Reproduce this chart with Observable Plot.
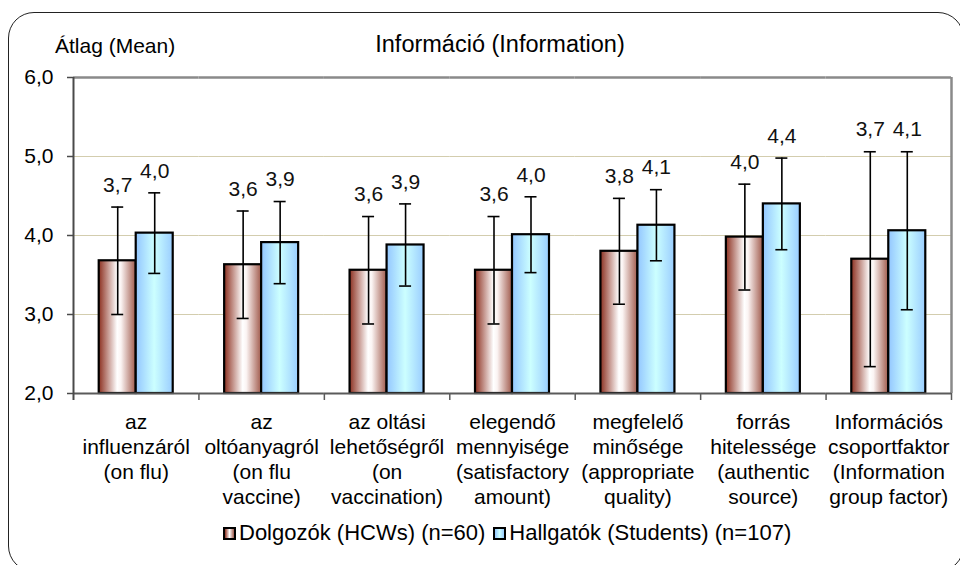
<!DOCTYPE html>
<html><head><meta charset="utf-8">
<script src="https://cdn.jsdelivr.net/npm/d3@7"></script>
<script src="https://cdn.jsdelivr.net/npm/@observablehq/plot@0.6"></script>
<style>
html,body{margin:0;padding:0;background:#fff;overflow:hidden;}
#wrap{position:relative;width:960px;height:565px;overflow:hidden;font-family:"Liberation Sans",Arial,sans-serif;color:#000;}
#frame{position:absolute;left:8px;top:12px;width:956px;height:560px;border:1.5px solid #222;border-radius:26px;box-sizing:border-box;pointer-events:none;}
#chart{position:absolute;left:0;top:0;}
#title{position:absolute;left:500px;top:33px;transform:translateX(-50%);font-size:23.5px;line-height:1;white-space:nowrap;}
#ylab{position:absolute;left:55px;top:35px;font-size:21px;line-height:1;white-space:nowrap;}
#legend{position:absolute;left:223px;top:522px;font-size:22px;line-height:1;display:flex;align-items:center;white-space:nowrap;}
#legend .sw{display:inline-block;width:9px;height:9px;border:2px solid #000;margin-right:3px;}
#legend .item{display:flex;align-items:center;margin-right:8px;}
</style>
</head><body>
<div id="wrap">
  <div id="chart"></div>
  <div id="title"></div>
  <div id="ylab"></div>
  <div id="legend"></div>
  <div id="frame"></div>
</div>
<script>
const chartTitle = "Információ (Information)";
const yTitle = "Átlag (Mean)";
const categories = [
  "az\ninfluenzáról\n(on flu)",
  "az\noltóanyagról\n(on flu\nvaccine)",
  "az oltási\nlehetőségről\n(on\nvaccination)",
  "elegendő\nmennyisége\n(satisfactory\namount)",
  "megfelelő\nminősége\n(appropriate\nquality)",
  "forrás\nhitelessége\n(authentic\nsource)",
  "Információs\ncsoportfaktor\n(Information\ngroup factor)"
];
const series = ["Dolgozók (HCWs) (n=60)", "Hallgatók (Students) (n=107)"];
const hcwMean = [3.68, 3.63, 3.56, 3.56, 3.80, 3.98, 3.70];
const hcwSd = [0.68, 0.68, 0.68, 0.68, 0.67, 0.67, 1.36];
const studentMean = [4.03, 3.91, 3.88, 4.01, 4.13, 4.40, 4.06];
const studentSd = [0.51, 0.52, 0.52, 0.48, 0.45, 0.58, 1.00];
const yTicks = [2, 3, 4, 5, 6];

const rows = [];
categories.forEach((c, i) => {
  rows.push({cat: c, series: series[0], mean: hcwMean[i], sd: hcwSd[i]});
  rows.push({cat: c, series: series[1], mean: studentMean[i], sd: studentSd[i]});
});
const hcwRows = rows.filter(d => d.series === series[0]);
const stuRows = rows.filter(d => d.series === series[1]);
const fmt = v => v.toFixed(1).replace(".", ",");

const W = 960, H = 565, mL = 73, mR = 9, mT = 77, mB = 172;
const bw = (W - mL - mR) / categories.length;

const chart = Plot.plot({
  width: W, height: H,
  marginTop: mT, marginBottom: mB, marginLeft: mL, marginRight: mR,
  style: {fontFamily: "'Liberation Sans', Arial, sans-serif", fontSize: "21px", color: "#000", background: "transparent", overflow: "visible"},
  fx: {domain: categories, padding: 0, round: false, label: null},
  x: {domain: series, paddingInner: 0, paddingOuter: 0.695, round: false, axis: null},
  y: {domain: [2, 6], label: null},
  marks: [
    Plot.ruleY([3, 4, 5], {stroke: "#d3cdae", strokeWidth: 1.2}),
    Plot.ruleY([6], {stroke: "#8a8a8a", strokeWidth: 2.5}),
    Plot.ruleX([categories[categories.length - 1]], {fx: d => d, x: null, dx: bw / 2, y1: 6, y2: 2, stroke: "#8a8a8a", strokeWidth: 2.5}),
    Plot.barY(hcwRows, {fx: "cat", x: "series", y1: 2, y2: "mean", fill: "url(#gBrown)", stroke: "#000", strokeWidth: 2.2, inset: 0}),
    Plot.barY(stuRows, {fx: "cat", x: "series", y1: 2, y2: "mean", fill: "url(#gBlue)", stroke: "#000", strokeWidth: 2.2, inset: 0}),
    Plot.ruleX(rows, {fx: "cat", x: "series", y1: d => d.mean - d.sd, y2: d => d.mean + d.sd, stroke: "#000", strokeWidth: 1.6}),
    Plot.tickY(rows, {fx: "cat", x: "series", y: d => d.mean + d.sd, insetLeft: 12.5, insetRight: 12.5, stroke: "#000", strokeWidth: 1.6}),
    Plot.tickY(rows, {fx: "cat", x: "series", y: d => d.mean - d.sd, insetLeft: 12.5, insetRight: 12.5, stroke: "#000", strokeWidth: 1.6}),
    Plot.text(rows, {fx: "cat", x: "series", y: d => d.mean + d.sd, text: d => fmt(d.mean), dy: -22, fontSize: 21, fill: "#111"}),
    Plot.ruleY([2], {stroke: "#5a5a5a", strokeWidth: 2}),
    Plot.ruleX([0], {x: null, dx: bw / 2, y1: 2, y2: 2, insetBottom: -7, stroke: "#5a5a5a", strokeWidth: 1.5}),
    Plot.ruleX([categories[0]], {fx: d => d, x: null, dx: -bw / 2, y1: 6, y2: 2, insetBottom: -7, stroke: "#4a4a4a", strokeWidth: 2}),
    Plot.axisY({ticks: yTicks, tickFormat: fmt, tickSize: 6, tickPadding: 14, fontSize: 21, label: null, stroke: "#4a4a4a", strokeWidth: 1.5}),
    Plot.axisFx({anchor: "bottom", tickSize: 0, tickPadding: 18, fontSize: 21, lineHeight: 1.19, label: null})
  ]
});

const svg = d3.select(chart);
const defs = svg.insert("defs", ":first-child");
const g1 = defs.append("linearGradient").attr("id", "gBrown").attr("x1", 0).attr("x2", 1).attr("y1", 0).attr("y2", 0);
[[0, "#8c3020"], [0.5, "#ffffff"], [0.6, "#fbf4f3"], [1, "#a05a4c"]].forEach(([o, c]) => g1.append("stop").attr("offset", o).attr("stop-color", c));
const g2 = defs.append("linearGradient").attr("id", "gBlue").attr("x1", 0).attr("x2", 1).attr("y1", 0).attr("y2", 0);
[[0, "#93c6ff"], [0.5, "#ccffff"], [1, "#9acdff"]].forEach(([o, c]) => g2.append("stop").attr("offset", o).attr("stop-color", c));

document.getElementById("chart").appendChild(chart);
document.getElementById("title").textContent = chartTitle;
document.getElementById("ylab").textContent = yTitle;

const legend = document.getElementById("legend");
const swatchBg = [
  "linear-gradient(to right,#8c3020,#ffffff 50%,#a05a4c)",
  "linear-gradient(to right,#93c6ff,#ccffff 50%,#9acdff)"
];
series.forEach((s, i) => {
  const item = document.createElement("span");
  item.className = "item";
  const sw = document.createElement("span");
  sw.className = "sw";
  sw.style.background = swatchBg[i];
  const t = document.createElement("span");
  t.textContent = s;
  item.appendChild(sw);
  item.appendChild(t);
  legend.appendChild(item);
});
</script>
</body></html>
